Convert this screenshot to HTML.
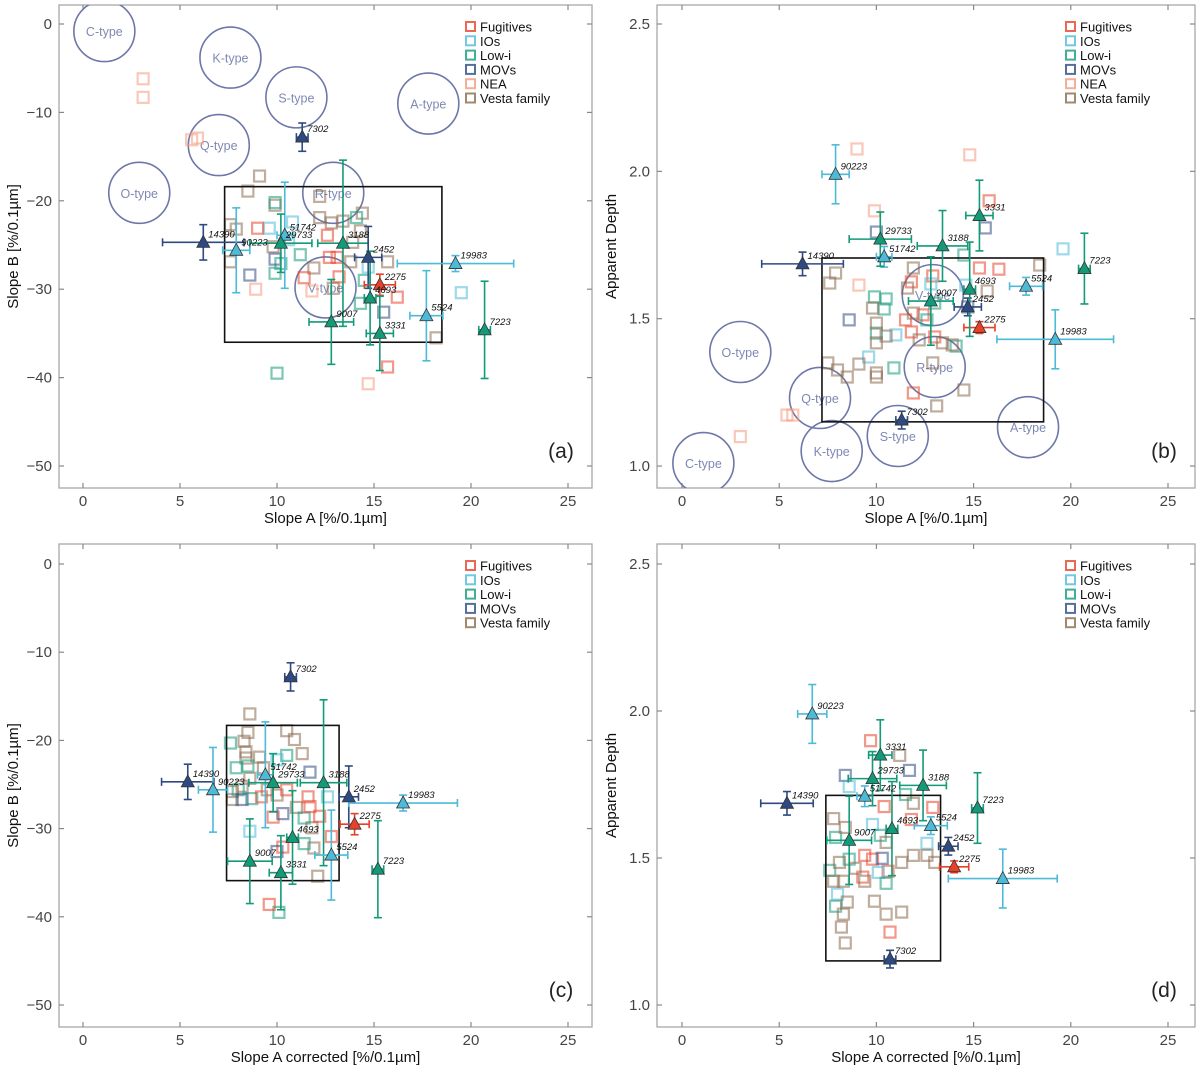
<!DOCTYPE html>
<html><head><meta charset="utf-8">
<style>
html,body{margin:0;padding:0;background:#fff;}
svg{display:block;font-family:"Liberation Sans",sans-serif;}
</style></head>
<body>
<svg id="fig" width="1200" height="1070" viewBox="0 0 1200 1070" xmlns="http://www.w3.org/2000/svg"></svg>
<script>
// ---------- data ----------
const classNames = ["Fugitives","IOs","Low-i","MOVs","NEA","Vesta family"];
const classColors = ["#e8412a","#4dbad8","#139a78","#2d4a82","#f59a7e","#8a6a4e"];
// labelled asteroids
const objNames = ["7302","14390","90223","51742","29733","3188","2452","2275","4693","9007","3331","5524","19983","7223"];
const objClass = [3,3,1,1,2,2,3,0,2,2,2,1,1,2];
const slopeA   = [11.3,6.2,7.9,10.4,10.2,13.4,14.7,15.3,14.8,12.8,15.3,17.7,19.2,20.7];
const slopeB   = [-12.8,-24.7,-25.6,-23.9,-24.8,-24.8,-26.4,-29.5,-31.0,-33.7,-35.0,-33.0,-27.1,-34.6];
const depthB   = [1.156,1.686,1.99,1.71,1.77,1.747,1.54,1.47,1.60,1.56,1.85,1.61,1.43,1.67];
const slopeAc  = [10.7,5.4,6.7,9.4,9.8,12.4,13.7,14.0,10.8,8.6,10.2,12.8,16.5,15.2];
const errA     = [0.3,2.1,0.7,0.4,1.6,1.3,0.7,0.8,0.3,1.15,0.7,0.85,3.0,0.3];
const errB     = [1.6,2.0,4.8,6.0,3.3,9.4,3.5,1.2,5.3,4.8,4.2,5.1,0.9,5.5];
const errD     = [0.03,0.04,0.1,0.035,0.092,0.12,0.03,0.02,0.16,0.15,0.12,0.03,0.1,0.12];
const errAc    = [0.3,1.35,0.75,0.4,1.25,1.2,0.5,0.75,0.3,1.15,0.6,0.85,2.8,0.3];
// background squares: class, x, y per panel
const sqA_cls = [4,4,4,4,4,4,4, 5,5,5,5,5,5,5,5,5,5,5,5,5,5,5,5,5,5,5, 2,2,2,2,2,2,2,2, 1,1,1,1,1, 0,0,0,0,0,0,0,0, 3,3,3];
const sqA_x = [3.1,3.1,5.6,5.9,8.9,11.8,14.7, 9.1,8.5,9.9,7.6,7.9,9.8,7.6,12.2,12.8,13.4,14.4,14.3,13.9,13.8,11.9,12.9,15.7,18.2,12.2, 9.9,14.1,14.3,9.9,10.2,14.5,10.0,11.2, 10.8,9.6,19.5,14.7,10.6, 9.0,12.6,13.1,11.4,13.2,16.2,15.7,12.7, 8.6,9.9,15.5];
const sqA_y = [-6.2,-8.3,-13.1,-12.9,-30.0,-30.2,-40.7, -17.2,-18.9,-20.5,-22.7,-23.2,-25.2,-26.9,-21.9,-22.5,-22.3,-21.4,-23.4,-24.7,-26.9,-27.6,-29.9,-26.9,-35.5,-19.5, -20.2,-21.9,-31.6,-28.2,-27.1,-29.0,-39.5,-26.1, -22.4,-23.1,-30.4,-27.5,-24.4, -23.1,-23.9,-26.4,-28.7,-28.6,-30.9,-38.8,-26.4, -28.4,-26.6,-32.6];
const sqB_cls = [4,4,4,4,4,4,4, 0,0,0,0,0,0,0,0,0,0, 3,3,3,3, 2,2,2,2,2,2,2,2,2, 1,1,1,1,1, 5,5,5,5,5,5,5,5,5,5,5,5,5,5,5,5,5,5,5,5,5,5,5];
const sqB_x = [9.0,14.8,9.9,9.1,5.7,5.4,3.0, 15.8,15.3,16.3,12.9,11.8,12.4,11.5,11.8,13.0,11.9, 10.0,15.6,8.6,14.7, 14.5,9.9,10.5,10.4,12.6,10.0,14.1,10.9,13.0, 12.8,11.0,9.6,19.6,14.6, 7.9,7.6,11.9,11.6,9.8,10.0,10.0,10.5,11.9,12.2,13.4,13.9,12.9,7.5,8.0,8.5,9.1,10.0,10.0,14.5,13.1,18.4,15.7];
const sqB_y = [2.076,2.056,1.866,1.614,1.173,1.173,1.10, 1.90,1.672,1.668,1.645,1.625,1.513,1.496,1.455,1.438,1.248, 1.794,1.808,1.496,1.54, 1.716,1.574,1.567,1.533,1.496,1.451,1.407,1.333,1.553, 1.618,1.445,1.37,1.737,1.614, 1.655,1.621,1.672,1.604,1.536,1.485,1.418,1.441,1.519,1.428,1.418,1.411,1.350,1.350,1.326,1.302,1.346,1.316,1.302,1.258,1.204,1.682,1.594];
const sqC_cls = [5,5,5,5,5,5,5,5,5,5,5,5,5,5,5,5,5,5,5,5, 2,2,2,2,2,2,2,2,2, 1,1,1, 0,0,0,0,0,0,0,0,0, 3,3,3,3];
const sqC_x = [8.6,8.5,8.3,8.4,8.4,10.5,10.9,11.3,9.1,9.3,8.6,8.2,7.7,9.5,10.0,7.7,11.0,11.8,11.9,12.1, 7.6,7.9,8.5,10.5,8.0,8.7,11.4,11.4,10.1, 12.6,8.6,10.0, 9.2,10.5,9.8,11.6,11.7,12.2,12.8,10.3,9.6, 11.7,8.2,10.3,10.0];
const sqC_y = [-17.0,-19.1,-20.1,-21.3,-22.0,-18.9,-19.9,-21.5,-21.9,-23.1,-24.3,-25.2,-25.8,-25.6,-26.2,-26.7,-27.6,-29.9,-32.2,-35.4, -20.3,-23.1,-22.9,-21.7,-25.6,-26.6,-28.8,-31.7,-39.5, -26.4,-30.3,-22.2, -26.4,-25.6,-28.7,-26.4,-27.5,-28.6,-30.9,-32.1,-38.6, -23.6,-26.7,-28.3,-32.6];
const sqD_cls = [0,0,0,0,0,0,0,0,0, 3,3,3, 1,1,1,1,1, 2,2,2,2,2,2,2, 5,5,5,5,5,5,5,5,5,5,5,5,5,5,5,5,5,5,5,5,5];
const sqD_x = [9.7,10.4,12.9,9.4,9.8,9.3,10.6,10.7,11.8, 8.4,11.7,10.3, 8.6,9.8,12.6,8.0,10.1, 11.5,10.2,7.9,8.6,7.6,10.5,7.9, 11.2,11.9,7.8,8.4,10.5,11.9,12.6,13.0,11.3,8.1,8.9,8.3,7.8,9.4,8.5,9.9,8.3,10.5,11.3,8.2,8.4];
const sqD_y = [1.899,1.675,1.672,1.509,1.496,1.435,1.455,1.248,1.631, 1.781,1.798,1.499, 1.743,1.614,1.55,1.377,1.451, 1.716,1.577,1.570,1.496,1.458,1.414,1.336, 1.849,1.686,1.634,1.604,1.553,1.509,1.509,1.485,1.485,1.485,1.465,1.421,1.421,1.421,1.350,1.353,1.309,1.309,1.316,1.265,1.211];
// taxonomic circles
const taxNames = ["C-type","K-type","S-type","A-type","Q-type","O-type","R-type","V-type"];
const taxA_x = [1.1,7.6,11.0,17.8,7.0,2.9,12.9,12.5];
const taxA_y = [-0.8,-3.8,-8.3,-9.0,-13.7,-19.1,-19.1,-29.8];
const taxB_x = [1.1,7.7,11.1,17.8,7.1,3.0,13.0,12.9];
const taxB_y = [1.010,1.051,1.102,1.132,1.231,1.387,1.336,1.580];
// selection boxes [x0,x1,y0,y1]
const boxA = [7.3,18.5,-18.4,-36.0];
const boxB = [7.2,18.6,1.706,1.150];
const boxC = [7.4,13.2,-18.3,-35.9];
const boxD = [7.4,13.3,1.713,1.150];
const xTicks = [0,5,10,15,20,25];
const yTicksSlope = [0,-10,-20,-30,-40,-50];
const yTicksDepth = [1.0,1.5,2.0,2.5];

// ---------- drawing ----------
const NS="http://www.w3.org/2000/svg";
const svg=document.getElementById('fig');
function mk(tag,attrs,parent,text){const e=document.createElementNS(NS,tag);for(const k in attrs)e.setAttribute(k,attrs[k]);if(text!==undefined)e.textContent=text;(parent||svg).appendChild(e);return e;}

function panel(cfg){
  const g=mk('g',{});
  
  
  const L=cfg.left,R=cfg.right,T=cfg.top,B=cfg.bottom;
  const sx=v=>cfg.x0+cfg.xk*v, sy=v=>cfg.y0+cfg.yk*(v-cfg.yref);
  const clipId='clip-'+cfg.name;
  const cp=mk('clipPath',{id:clipId},g);mk('rect',{x:L,y:T,width:R-L,height:B-T},cp);
  const fr=mk('rect',{x:L,y:T,width:R-L,height:B-T,fill:'none',stroke:'#a8a8a8','stroke-width':1.3},g);
  
  
  xTicks.forEach(t=>{const x=sx(t);
    mk('line',{x1:x,x2:x,y1:B,y2:B-5,stroke:'#888','stroke-width':1.2},g);
    mk('line',{x1:x,x2:x,y1:T,y2:T+5,stroke:'#888','stroke-width':1.2},g);
    const tl=mk('text',{x:x,y:B+18,'text-anchor':'middle','font-size':15,fill:'#444'},g,String(t));
    
    
  });
  cfg.yticks.forEach(t=>{const y=sy(t);
    mk('line',{x1:L,x2:L+5,y1:y,y2:y,stroke:'#888','stroke-width':1.2},g);
    mk('line',{x1:R,x2:R-5,y1:y,y2:y,stroke:'#888','stroke-width':1.2},g);
    const lbl=cfg.depth?t.toFixed(1):(t<0?'\u2212'+(-t):String(t));
    const tl=mk('text',{x:L-7,y:y+5,'text-anchor':'end','font-size':15,fill:'#444'},g,lbl);
    
    
  });
  const xt=mk('text',{x:(L+R)/2,y:B+35,'text-anchor':'middle','font-size':15,fill:'#111'},g,cfg.xtitle);
  
  
  const yt=mk('text',{x:0,y:0,'text-anchor':'middle','font-size':15,fill:'#111',transform:`translate(${L-41},${(T+B)/2}) rotate(-90)`},g,cfg.ytitle);
  
  
  const pl=mk('text',{x:R-31,y:B-30,'text-anchor':'middle','font-size':21,fill:'#222'},g,cfg.label);
  
  
  const inner=mk('g',{'clip-path':`url(#${clipId})`},g);
  if(cfg.taxX){cfg.taxX.forEach((v,i)=>{
    const c=mk('circle',{cx:sx(v),cy:sy(cfg.taxY[i]),r:30.5,fill:'none',stroke:'#6d77a8','stroke-width':1.6},inner);
    
    
    const t=mk('text',{x:sx(v),y:sy(cfg.taxY[i])+5,'text-anchor':'middle','font-size':12.5,fill:'#7f88b4'},inner,taxNames[i]);
    
    
  });}
  cfg.sqX.forEach((v,i)=>{
    const k=(cfg.sqC[i]===undefined)?5:cfg.sqC[i];
    const s=mk('rect',{x:sx(v)-5.5,y:sy(cfg.sqY[i])-5.5,width:11,height:11,fill:'none',stroke:classColors[k],'stroke-width':2.2,'stroke-opacity':0.55},inner);
    
    
  });
  const bx=cfg.box;
  const br=mk('rect',{x:sx(bx[0]),y:sy(bx[2]),width:sx(bx[1])-sx(bx[0]),height:sy(bx[3])-sy(bx[2]),fill:'none',stroke:'#111','stroke-width':1.6},inner);
  
  
  cfg.px.forEach((v,i)=>{
    const col=classColors[objClass[i]];
    const x=sx(v),y=sy(cfg.py[i]);
    const xa=sx(v-cfg.ex[i]),xb=sx(v+cfg.ex[i]);
    const ya=sy(cfg.py[i]-cfg.ey[i]),yb=sy(cfg.py[i]+cfg.ey[i]);
    const eg=mk('g',{stroke:col,'stroke-width':1.6},inner);
    
    
    mk('line',{x1:xa,x2:xb,y1:y,y2:y},eg);
    mk('line',{x1:xa,x2:xa,y1:y-4,y2:y+4},eg);
    mk('line',{x1:xb,x2:xb,y1:y-4,y2:y+4},eg);
    mk('line',{x1:x,x2:x,y1:ya,y2:yb},eg);
    mk('line',{x1:x-4,x2:x+4,y1:ya,y2:ya},eg);
    mk('line',{x1:x-4,x2:x+4,y1:yb,y2:yb},eg);
  });
  cfg.px.forEach((v,i)=>{
    const col=classColors[objClass[i]];
    const x=sx(v),y=sy(cfg.py[i]);
    const tri=mk('polygon',{points:`${x-6.5},${y+5} ${x+6.5},${y+5} ${x},${y-7}`,fill:col,stroke:'#333','stroke-width':0.8},inner);
    
    
    const tl=mk('text',{x:x+5,y:y-5,'font-size':9.5,'font-style':'italic',fill:'#111'},inner,objNames[i]);
    
    
  });
  const lg=mk('g',{},g);
  
  
  cfg.legend.forEach((k,j)=>{
    const ly=T+22+j*14.3;
    const e=mk('g',{},lg);
    
    
    mk('rect',{x:cfg.legX,y:ly-5,width:9,height:9,fill:'none',stroke:classColors[k],'stroke-width':2,'stroke-opacity':0.8},e);
    mk('text',{x:cfg.legX+14,y:ly+4.5,'font-size':13,fill:'#111'},e,classNames[k]);
  });
}

const slopeTitleB='Slope B [%/0.1\u00b5m]';
panel({name:'panel-a',left:59,right:592,top:5,bottom:488,x0:83,xk:19.4,y0:24,yk:-8.84,yref:0,yticks:yTicksSlope,depth:false,
  xtitle:'Slope A [%/0.1\u00b5m]',ytitle:slopeTitleB,label:'(a)',taxX:taxA_x,taxY:taxA_y,
  sqX:sqA_x,sqY:sqA_y,sqC:sqA_cls,box:boxA,px:slopeA,py:slopeB,ex:errA,ey:errB,legend:[0,1,2,3,4,5],legX:466});
panel({name:'panel-b',left:657,right:1195,top:5,bottom:488,x0:682,xk:19.44,y0:24,yk:-294.7,yref:2.5,yticks:yTicksDepth,depth:true,
  xtitle:'Slope A [%/0.1\u00b5m]',ytitle:'Apparent Depth',label:'(b)',taxX:taxB_x,taxY:taxB_y,
  sqX:sqB_x,sqY:sqB_y,sqC:sqB_cls,box:boxB,px:slopeA,py:depthB,ex:errA,ey:errD,legend:[0,1,2,3,4,5],legX:1066});
panel({name:'panel-c',left:59,right:592,top:544,bottom:1027,x0:83,xk:19.4,y0:564,yk:-8.82,yref:0,yticks:yTicksSlope,depth:false,
  xtitle:'Slope A corrected [%/0.1\u00b5m]',ytitle:slopeTitleB,label:'(c)',taxX:null,
  sqX:sqC_x,sqY:sqC_y,sqC:sqC_cls,box:boxC,px:slopeAc,py:slopeB,ex:errAc,ey:errB,legend:[0,1,2,3,5],legX:466});
panel({name:'panel-d',left:657,right:1195,top:544,bottom:1027,x0:682,xk:19.44,y0:564,yk:-294,yref:2.5,yticks:yTicksDepth,depth:true,
  xtitle:'Slope A corrected [%/0.1\u00b5m]',ytitle:'Apparent Depth',label:'(d)',taxX:null,
  sqX:sqD_x,sqY:sqD_y,sqC:sqD_cls,box:boxD,px:slopeAc,py:depthB,ex:errAc,ey:errD,legend:[0,1,2,3,5],legX:1066});
</script>
</body></html>
